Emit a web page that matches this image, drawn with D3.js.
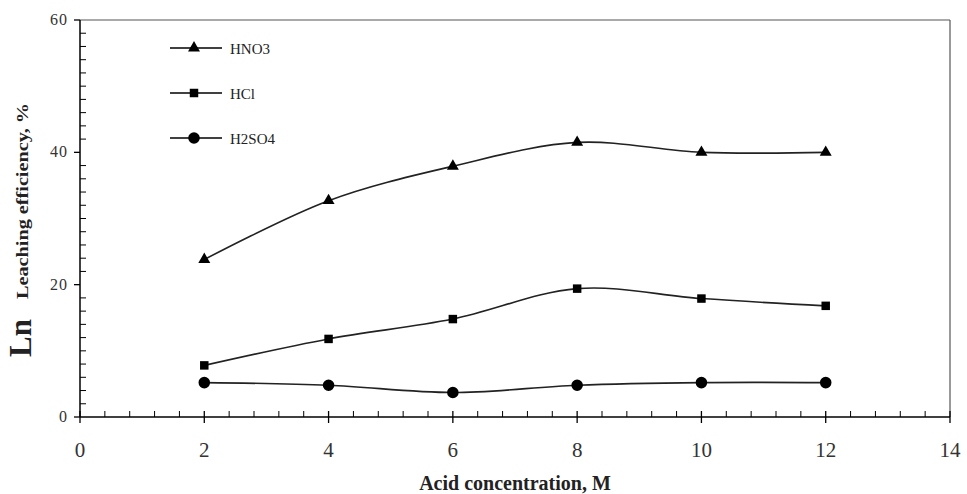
<!DOCTYPE html>
<html><head><meta charset="utf-8">
<script src="https://cdn.jsdelivr.net/npm/d3@7"></script>
<style>body{margin:0;background:#fff}svg{display:block}</style>
</head><body>
<svg id="c" width="967" height="494"></svg>
<script>
const concentrations = [2, 4, 6, 8, 10, 12];
const hno3 = [23.8, 32.7, 37.9, 41.5, 40.0, 40.0];
const hcl = [7.8, 11.8, 14.8, 19.4, 17.9, 16.8];
const h2so4 = [5.2, 4.8, 3.7, 4.8, 5.2, 5.2];
const seriesNames = ["HNO3", "HCl", "H2SO4"];
const xTicks = [0, 2, 4, 6, 8, 10, 12, 14];
const yTicks = [0, 20, 40, 60];

const svg = d3.select("#c");
const x = d3.scaleLinear().domain([0, 14]).range([80, 950]);
const y = d3.scaleLinear().domain([0, 60]).range([417, 20]);
const font = "'Liberation Serif', 'Times New Roman', serif";

// frame top/right
svg.append("line").attr("x1", 80).attr("x2", 950).attr("y1", y(60)).attr("y2", y(60)).attr("stroke", "#555").attr("stroke-width", 1.2);
svg.append("line").attr("x1", 950).attr("x2", 950).attr("y1", y(60)).attr("y2", y(0)).attr("stroke", "#555").attr("stroke-width", 1.2);

// x axis
const gx = svg.append("g").attr("transform", `translate(0,${y(0)})`);
gx.append("line").attr("x1", x(0)).attr("x2", x(14)).attr("stroke", "#000").attr("stroke-width", 1.5);
const minorX = d3.range(0, 14.001, 0.4).filter(v => Math.abs(v / 2 - Math.round(v / 2)) > 1e-6);
gx.selectAll(".mx").data(minorX).join("line").attr("x1", d => x(d)).attr("x2", d => x(d)).attr("y1", 0).attr("y2", -6).attr("stroke", "#000");
gx.selectAll(".Mx").data(xTicks).join("line").attr("x1", d => x(d)).attr("x2", d => x(d)).attr("y1", -6).attr("y2", 6).attr("stroke", "#000").attr("stroke-width", 1.3);
gx.selectAll(".tx").data(xTicks).join("text").attr("x", d => x(d)).attr("y", 40).attr("text-anchor", "middle")
  .attr("font-family", font).attr("font-size", 21).attr("fill", "#333").text(d => d);

// y axis
const gy = svg.append("g");
gy.append("line").attr("x1", x(0)).attr("x2", x(0)).attr("y1", y(0)).attr("y2", y(60)).attr("stroke", "#000").attr("stroke-width", 1.5);
const minorY = d3.range(0, 60.001, 2).filter(v => v % 20 !== 0);
gy.selectAll(".my").data(minorY).join("line").attr("x1", x(0)).attr("x2", x(0) + 6).attr("y1", d => y(d)).attr("y2", d => y(d)).attr("stroke", "#000");
gy.selectAll(".My").data(yTicks).join("line").attr("x1", x(0) - 6).attr("x2", x(0)).attr("y1", d => y(d)).attr("y2", d => y(d)).attr("stroke", "#000").attr("stroke-width", 1.3);
gy.selectAll(".ty").data(yTicks).join("text").attr("x", x(0) - 12).attr("y", d => y(d) + 5).attr("text-anchor", "end")
  .attr("font-family", font).attr("font-size", 16).attr("letter-spacing", 1).attr("fill", "#333").text(d => d);

// axis titles
svg.append("text").attr("x", 515).attr("y", 490).attr("text-anchor", "middle").attr("font-family", font)
  .attr("font-size", 20).attr("font-weight", "bold").attr("fill", "#222").text("Acid concentration, M");
svg.append("text").attr("transform", "translate(31,338) rotate(-90)").attr("text-anchor", "middle").attr("font-family", font)
  .attr("font-size", 31).attr("font-weight", "bold").attr("fill", "#222").text("Ln");
svg.append("text").attr("transform", "translate(28,201) rotate(-90)").attr("text-anchor", "middle").attr("font-family", font)
  .attr("font-size", 16).attr("font-weight", "bold").attr("fill", "#222")
  .attr("textLength", 196).attr("lengthAdjust", "spacingAndGlyphs").text("Leaching efficiency, %");

const data = [hno3, hcl, h2so4];
const symbols = [d3.symbolTriangle, d3.symbolSquare, d3.symbolCircle];
const sizes = [62, 72, 105];
const line = d3.line().x((d, i) => x(concentrations[i])).y(d => y(d)).curve(d3.curveCatmullRom.alpha(0.5));

data.forEach((vals, k) => {
  svg.append("path").attr("d", line(vals)).attr("fill", "none").attr("stroke", "#222").attr("stroke-width", 1.6);
  svg.selectAll(".p" + k).data(vals).join("path")
    .attr("transform", (d, i) => `translate(${x(concentrations[i])},${y(d)})`)
    .attr("d", d3.symbol().type(symbols[k]).size(sizes[k])).attr("fill", "#000");
});

// legend
const legY = [48, 93, 138];
seriesNames.forEach((n, k) => {
  const g = svg.append("g").attr("transform", `translate(0,${legY[k]})`);
  g.append("line").attr("x1", 170).attr("x2", 222).attr("stroke", "#000").attr("stroke-width", 1.3);
  g.append("path").attr("transform", "translate(194,0)").attr("d", d3.symbol().type(symbols[k]).size(sizes[k])).attr("fill", "#000");
  g.append("text").attr("x", 230).attr("y", 6).attr("font-family", font).attr("font-size", 15).attr("fill", "#222").text(n);
});
</script>
</body></html>
